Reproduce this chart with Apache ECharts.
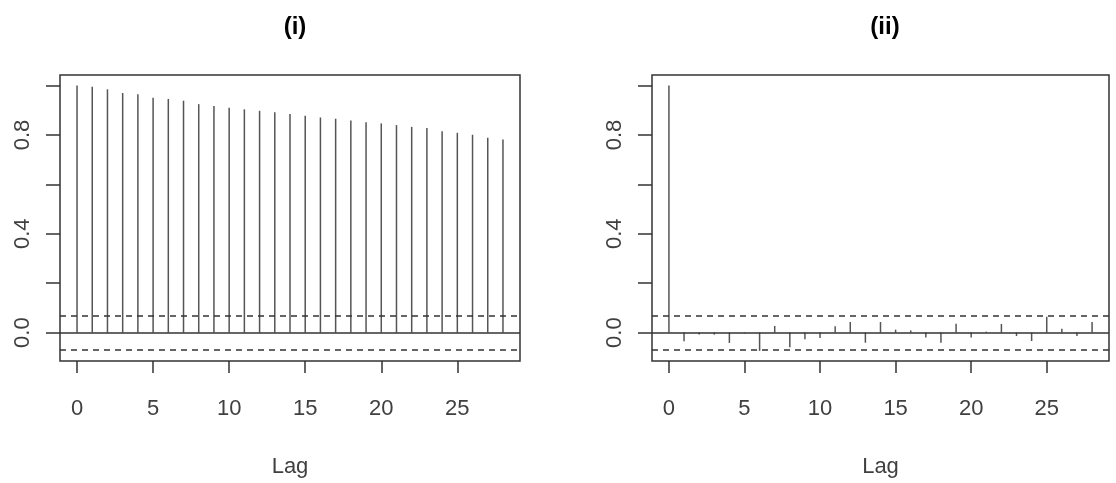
<!DOCTYPE html>
<html><head><meta charset="utf-8">
<script src="https://cdn.jsdelivr.net/npm/echarts@6/dist/echarts.min.js"></script>
<style>html,body{margin:0;padding:0;background:#fff}#c{width:1116px;height:483px}</style>
</head><body><div id="c"></div>
<script>
const lags = [0,1,2,3,4,5,6,7,8,9,10,11,12,13,14,15,16,17,18,19,20,21,22,23,24,25,26,27,28];
const acfLeft = [1.0,0.995,0.985,0.970,0.965,0.951,0.946,0.939,0.925,0.917,0.910,0.904,0.898,0.892,0.885,0.878,0.871,0.866,0.859,0.852,0.847,0.840,0.833,0.828,0.815,0.809,0.801,0.789,0.782];
const acfRight = [1.0,-0.035,-0.008,-0.008,-0.042,-0.003,-0.074,0.027,-0.059,-0.027,-0.022,0.026,0.043,-0.041,0.043,0.012,0.009,-0.02,-0.041,0.036,-0.02,0.004,0.035,-0.014,-0.034,0.064,0.016,-0.014,0.043];
const ciBound = 0.072;
const xTicks = [0,5,10,15,20,25];
const yTicks = [0,0.2,0.4,0.6,0.8,1.0];
const yLabels = [0,0.4,0.8];
const titles = ['(i)','(ii)'];
const xName = 'Lag';

const font = 'Liberation Sans, Arial, sans-serif';
const col = '#404040';
const grids = [
  {left:60, top:75, width:460, height:286, show:true, borderColor:'#333', borderWidth:1.5, backgroundColor:'transparent'},
  {left:652, top:75, width:457, height:286, show:true, borderColor:'#333', borderWidth:1.5, backgroundColor:'transparent'}
];
function xAx(i){return {gridIndex:i, type:'value', min:-1.12, max:29.12, position:'bottom',
  axisLine:{show:false, onZero:false}, splitLine:{show:false},
  axisTick:{show:true, inside:false, customValues:xTicks, length:12, lineStyle:{color:'#333', width:1.5}},
  axisLabel:{customValues:xTicks, margin:37, fontSize:22, color:col, fontFamily:font},
  name:xName, nameLocation:'middle', nameGap:95, nameTextStyle:{fontSize:22, color:col, fontFamily:font}};}
function yAx(i){return {gridIndex:i, type:'value', min:-0.115, max:1.043, position:'left',
  axisLine:{show:false, onZero:false}, splitLine:{show:false},
  axisTick:{show:true, inside:false, customValues:yTicks, length:14, lineStyle:{color:'#333', width:1.5}},
  axisLabel:{customValues:yLabels, rotate:90, margin:26, fontSize:22, color:col, fontFamily:font,
    formatter:v=>v.toFixed(1)}};}
function stems(i, vals){
  return {type:'custom', xAxisIndex:i, yAxisIndex:i, data:lags.map((l,k)=>[l,vals[k]]),
    renderItem:(p,api)=>{const a=api.coord([api.value(0),0]);const b=api.coord([api.value(0),api.value(1)]);
      return {type:'line', shape:{x1:a[0],y1:a[1],x2:b[0],y2:b[1]}, style:{stroke:'#555', lineWidth:1.5}};},
    markLine:{silent:true, symbol:'none', label:{show:false},
      data:[{yAxis:ciBound, lineStyle:{type:[6,5], color:'#333', width:1.5}},
            {yAxis:-ciBound, lineStyle:{type:[6,5], color:'#333', width:1.5}},
            {yAxis:0, lineStyle:{type:'solid', color:'#333', width:1.5}}]}};
}
const chart = echarts.init(document.getElementById('c'), null, {renderer:'canvas'});
chart.setOption({
  animation:false,
  title:[
    {text:titles[0], left:290, top:10, textAlign:'center', textStyle:{fontSize:24, fontWeight:'bold', color:'#000', fontFamily:font}},
    {text:titles[1], left:880, top:10, textAlign:'center', textStyle:{fontSize:24, fontWeight:'bold', color:'#000', fontFamily:font}}
  ],
  grid:grids,
  xAxis:[xAx(0), xAx(1)],
  yAxis:[yAx(0), yAx(1)],
  series:[stems(0, acfLeft), stems(1, acfRight)]
});
</script></body></html>
